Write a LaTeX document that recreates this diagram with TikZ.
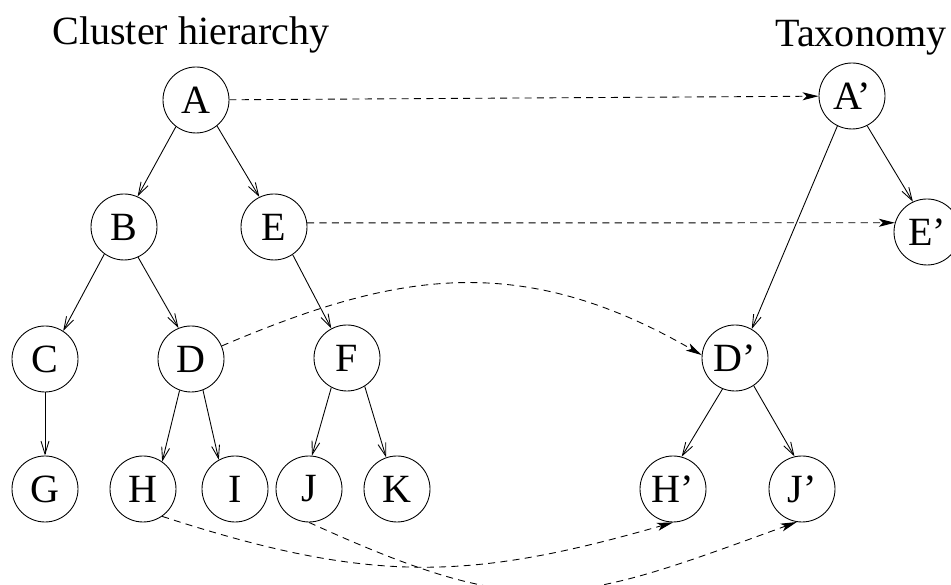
\documentclass[tikz,border=0pt]{standalone}
\usepackage{fontspec}
\setmainfont{Liberation Serif}
\usetikzlibrary{arrows.meta}

\begin{document}
\begin{tikzpicture}[ > = {Straight Barb[length=2.6mm,width=1.6mm]}, line width=0.5pt,
    vertex/.style = {draw, circle, minimum size=1.32cm, inner sep=0pt, font=\fontsize{22.8}{27}\selectfont},
    link/.style = {dash pattern=on 4pt off 3pt, -{Stealth[length=3.2mm,width=1.6mm,inset=0.8mm]}},
    caption/.style = {anchor=base west, inner sep=0pt, font=\fontsize{22.8}{27}\selectfont}]

    \useasboundingbox (0,0) rectangle (19.02,11.70);

    % titles
    \node[caption] (ch) at (1.04,10.80) {Cluster hierarchy};
    \node[caption] (tx) at (15.50,10.76) {Taxonomy};

    % cluster hierarchy
    \node[vertex] (A) at (3.92,9.70) {A};
    \node[vertex] (B) at (2.48,7.16) {B};
    \node[vertex] (E) at (5.48,7.16) {E};
    \node[vertex] (C) at (0.90,4.52) {C};
    \node[vertex] (D) at (3.82,4.52) {D};
    \node[vertex] (F) at (6.94,4.54) {F};
    \node[vertex] (G) at (0.90,1.92) {G};
    \node[vertex] (H) at (2.86,1.92) {\raisebox{-1.2mm}{H}};
    \node[vertex] (I) at (4.70,1.92) {I};
    \node[vertex] (J) at (6.18,1.92) {J};
    \node[vertex] (K) at (7.94,1.92) {K};

    \draw[->] (A.233) -- (B.66);
    \draw[->] (A.309) -- (E.116);
    \draw[->] (B.234) -- (C.57);
    \draw[->] (B.295) -- (D.112);
    \draw[->] (E.304) -- (F.118);
    \draw[->] (C.south) -- (G.north);
    \draw[->] (D.250) -- (H.55);
    \draw[->] (D.291) -- (I.119);
    \draw[->] (F.242) -- (J.85);
    \draw[->] (F.302) -- (K.109);

    % taxonomy
    \node[vertex] (tA) at (17.04,9.78) {A'};
    \node[vertex] (tE) at (18.54,7.06) {E'};
    \node[vertex] (tD) at (14.70,4.54) {D'};
    \node[vertex] (tH) at (13.46,1.92) {H'};
    \node[vertex] (tJ) at (16.04,1.92) {J'};

    \draw[->] (tA.244) -- (tD.60);
    \draw[->] (tA.297) -- (tE.115);
    \draw[->] (tD.248) -- (tH.75);
    \draw[->] (tD.304) -- (tJ.103);

    % mapping
    \draw[link] (A) -- (tA);
    \draw[link] (E.7) -- (tE.164);
    \draw[link] (D.23) .. controls +(23:3.69) and +(150:4.26) .. (tD.175);
    \draw[link] (H.-55) .. controls +(-18:4.39) and +(196:4.25) .. (tH.south);
    \draw[link] (J.south) .. controls +(-24.5:4.83) and +(200:4.82) .. (tJ.-99);

\end{tikzpicture}
\end{document}
